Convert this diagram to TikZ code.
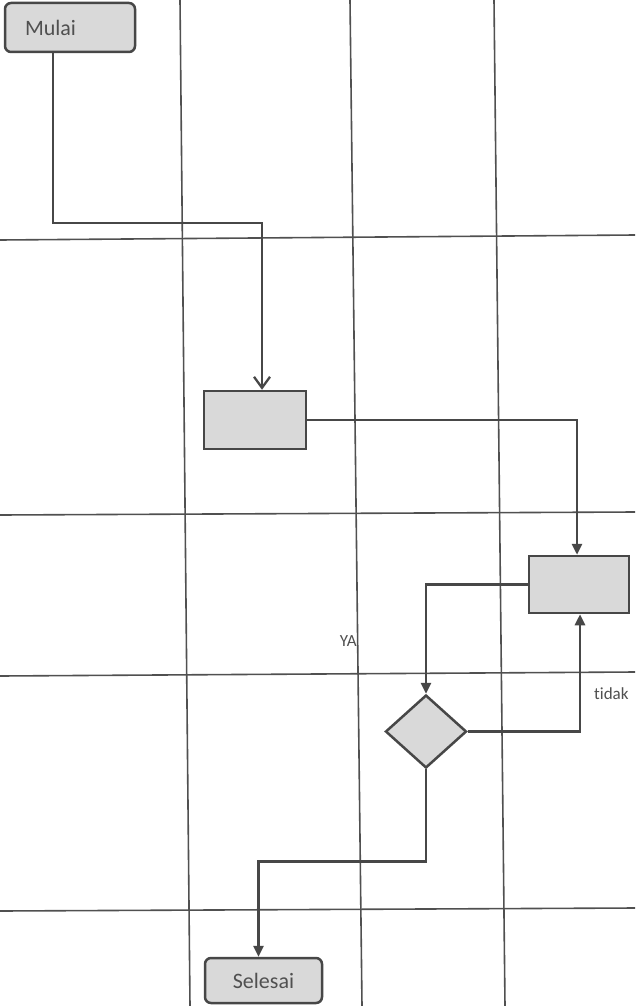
\documentclass[tikz,border=0pt]{standalone}
\usepackage{fontspec}
\setmainfont{Carlito}[Ligatures={NoCommon}]
\usetikzlibrary{arrows.meta,shapes.geometric,calc}
\definecolor{edge}{HTML}{474747}
\definecolor{gridc}{HTML}{505050}
\definecolor{boxfill}{HTML}{D9D9D9}
\definecolor{txt}{HTML}{505050}
\tikzset{
  gridline/.style={draw=gridc, line width=1.6pt},
  term/.style={draw=edge, fill=boxfill, rounded corners=6pt, line width=2.5pt, font=\fontsize{22}{24}\selectfont, text=txt, inner sep=0pt},
  proc/.style={draw=edge, fill=boxfill, line width=2.5pt, inner sep=0pt},
  dec/.style={diamond, draw=edge, fill=boxfill, line width=2.5pt, inner sep=0pt},
  flow/.style={draw=edge, line width=2.6pt, -{Triangle[length=11pt,width=10pt]}},
  openflow/.style={draw=edge, line width=2.3pt, -{Straight Barb[length=11pt,width=16pt,line width=2.3pt]}},
  lbl/.style={font=\fontsize{17}{19}\selectfont, text=txt, inner sep=0pt}
}
\begin{document}
\begin{tikzpicture}[x=1pt,y=-1pt]
\useasboundingbox (0,0) rectangle (635,1006);
\fill[white] (0,0) rectangle (635,1006);
% grid
\draw[gridline] (180,0) -- (190,1006);
\draw[gridline] (350,0) -- (362,1006);
\draw[gridline] (494,0) -- (505,1006);
\draw[gridline] (0,240) -- (635,235);
\draw[gridline] (0,515) -- (635,512);
\draw[gridline] (0,676) -- (635,672);
\draw[gridline] (0,911) -- (635,908);
% nodes
\node[term, minimum width=130pt, minimum height=49pt, text width=90pt, align=left, inner xsep=20pt] (mulai) at (70,27.5) {Mulai};
\node[proc, minimum width=102pt, minimum height=58pt] (box1) at (255,420) {};
\node[proc, minimum width=100pt, minimum height=57pt] (box2) at (579,584.5) {};
\node[dec, minimum width=81pt, minimum height=73pt] (dec) at (426,731.5) {};
\node[term, minimum width=117pt, minimum height=45pt] (selesai) at (263.5,980.5) {Selesai};
% connectors
\draw[openflow] ([xshift=-17pt]mulai.south) -- ++(0,170) -| ([xshift=7pt]box1.north);
\draw[flow] (box1.east) -| ([xshift=-2pt]box2.north);
\draw[flow] (box2.west) -| (dec.north);
\draw[flow] (dec.east) -| ([xshift=1pt]box2.south);
\draw[flow] (dec.south) -- ++(0,92) -| ([xshift=-5pt]selesai.north);
% labels
\node[lbl, anchor=east] (ya) at (357,641) {YA};
\node[lbl, anchor=west] (tidak) at (594,694) {tidak};
\end{tikzpicture}
\end{document}
